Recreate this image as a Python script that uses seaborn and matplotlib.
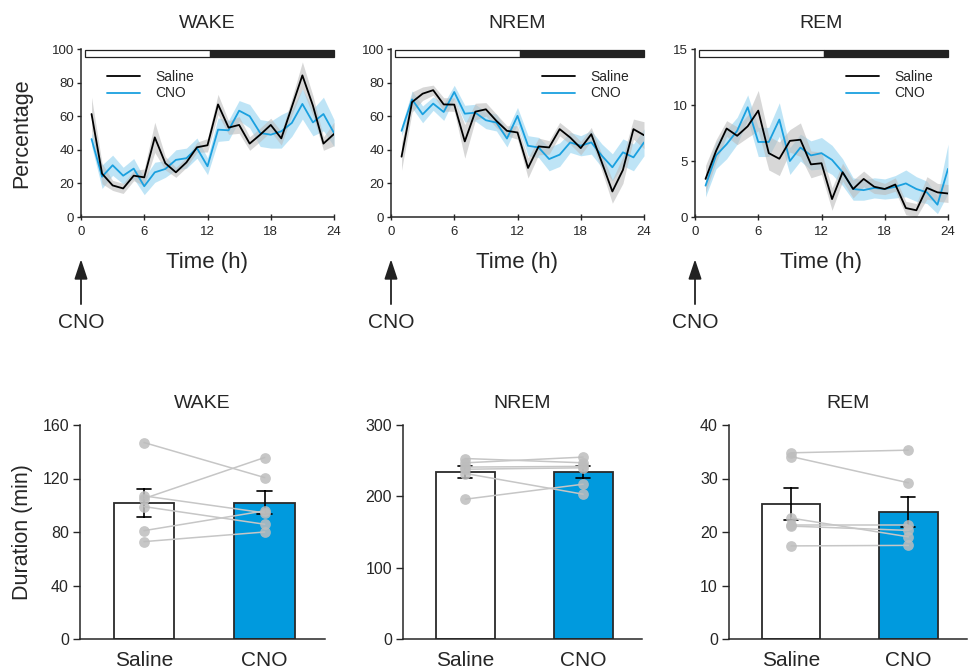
import numpy as np
import pandas as pd
import matplotlib
matplotlib.use("Agg")
import matplotlib.pyplot as plt
import matplotlib.transforms as mtransforms
from matplotlib.patches import Rectangle
import seaborn as sns

# ---- hourly time course (mean and SEM, %) ----
hours = list(range(1, 25))

wake_saline = [61.3, 25.8, 18.8, 17.0, 24.6, 23.6, 47.4, 32.0, 26.6, 32.5, 41.5, 42.7,
               67.0, 53.2, 54.8, 43.7, 49.0, 54.8, 46.8, 65.5, 84.3, 66.3, 43.7, 49.4]
wake_saline_sem = [10, 6, 3, 3, 3, 5, 9, 4, 3, 3, 3, 4, 6, 4, 5, 4, 4, 4, 4, 5, 8, 6, 4, 7]
wake_cno = [46.4, 24.0, 30.8, 24.6, 28.8, 18.3, 26.6, 28.6, 34.0, 35.0, 41.0, 30.2,
            52.0, 51.6, 63.3, 60.0, 50.0, 49.0, 51.0, 56.0, 67.3, 56.3, 61.3, 50.0]
wake_cno_sem = [4, 7, 6, 5, 6, 5, 6, 5, 6, 6, 6, 5, 7, 6, 6, 7, 8, 8, 10, 8, 9, 8, 10, 8]

nrem_saline = [35.9, 68.4, 73.4, 75.5, 67.0, 66.9, 45.0, 62.7, 64.1, 57.2, 51.3, 50.3,
               29.2, 42.0, 41.4, 52.3, 47.3, 41.0, 49.3, 32.5, 15.2, 28.0, 52.3, 48.7]
nrem_saline_sem = [8, 6, 4, 3, 4, 4, 10, 5, 4, 4, 3, 4, 6, 5, 4, 4, 4, 4, 4, 5, 7, 8, 6, 8]
nrem_cno = [51.3, 70.0, 61.1, 67.5, 62.5, 74.4, 61.5, 62.1, 57.6, 56.2, 46.7, 60.2,
            42.4, 41.4, 34.5, 37.1, 44.4, 42.4, 44.4, 36.5, 29.6, 38.5, 35.5, 44.4]
nrem_cno_sem = [3, 5, 5, 4, 5, 4, 5, 5, 5, 5, 5, 5, 6, 6, 7, 7, 6, 6, 7, 7, 8, 8, 8, 8]

rem_saline = [3.4, 5.9, 7.9, 7.25, 8.1, 9.5, 5.7, 5.2, 6.8, 6.9, 4.7, 4.8,
              1.6, 4.0, 2.5, 3.4, 2.7, 2.5, 2.9, 0.8, 0.6, 2.6, 2.2, 2.1]
rem_saline_sem = [1.2, 1.0, 0.7, 0.8, 1.0, 1.8, 1.5, 1.5, 1.0, 1.5, 1.2, 1.0,
                  1.0, 0.8, 0.8, 0.7, 0.6, 0.5, 0.6, 0.6, 0.6, 1.0, 0.8, 0.8]
rem_cno = [2.8, 5.5, 6.5, 7.7, 9.8, 6.7, 6.7, 8.7, 5.0, 6.2, 5.5, 5.7,
           5.1, 4.0, 2.5, 2.4, 2.6, 2.5, 2.7, 3.0, 2.5, 2.2, 1.1, 4.3]
rem_cno_sem = [1.0, 1.2, 1.3, 1.2, 1.1, 1.3, 1.3, 1.5, 1.2, 1.2, 1.3, 1.4,
               1.3, 1.2, 1.0, 0.9, 0.9, 0.9, 1.0, 1.2, 1.1, 1.0, 0.8, 2.2]

# ---- total durations per mouse (min), paired saline / CNO ----
conditions = ["Saline", "CNO"]
wake_dur_saline = [146.9, 105.0, 107.0, 99.0, 81.0, 72.8]
wake_dur_cno = [120.7, 135.7, 94.3, 85.8, 95.8, 80.0]
nrem_dur_saline = [253.0, 247.0, 241.0, 238.0, 232.0, 196.0]
nrem_dur_cno = [247.0, 255.0, 242.0, 240.0, 203.0, 217.0]
rem_dur_saline = [34.8, 34.1, 22.6, 21.4, 21.1, 17.4]
rem_dur_cno = [35.3, 29.2, 19.1, 21.4, 20.3, 17.5]

BLUE = "#1aa0df"
BAR_BLUE = "#009ade"
LIGHT_BLUE = "#a9dcf3"

sns.set_style("ticks")
plt.rcParams["font.family"] = ["Liberation Sans", "DejaVu Sans"]

fig = plt.figure(figsize=(9.68, 6.71), dpi=100)
W, H = 968.0, 671.0


def px_axes(left, top, right, bottom):
    return fig.add_axes([left / W, 1 - bottom / H, (right - left) / W, (bottom - top) / H])


def time_panel(ax, title, sal, sal_sem, cno, cno_sem, ymax, yticks, legend_x, ylabel=None):
    t = np.array(hours)
    sal, sal_sem = np.array(sal), np.array(sal_sem)
    cno, cno_sem = np.array(cno), np.array(cno_sem)
    ax.fill_between(t, cno - cno_sem, cno + cno_sem, color=LIGHT_BLUE, alpha=0.75, lw=0)
    ax.fill_between(t, sal - sal_sem, sal + sal_sem, color="#bdbdbd", alpha=0.6, lw=0)
    sns.lineplot(x=t, y=cno, ax=ax, color=BLUE, lw=1.3, label="CNO")
    sns.lineplot(x=t, y=sal, ax=ax, color="black", lw=1.3, label="Saline")
    ax.set_xlim(0, 24)
    ax.set_ylim(0, ymax)
    ax.set_xticks([0, 6, 12, 18, 24])
    ax.set_yticks(yticks)
    # light / dark bar
    tr = mtransforms.blended_transform_factory(ax.transData, ax.transAxes)
    ax.add_patch(Rectangle((0.4, 0.955), 11.8, 0.04, transform=tr, facecolor="white",
                           edgecolor="#222222", lw=0.9, clip_on=False))
    ax.add_patch(Rectangle((12.2, 0.955), 11.8, 0.04, transform=tr, facecolor="#222222",
                           edgecolor="#222222", lw=0.9, clip_on=False))
    handles, labels = ax.get_legend_handles_labels()
    order = [labels.index("Saline"), labels.index("CNO")]
    ax.legend([handles[i] for i in order], [labels[i] for i in order],
              loc="upper left", bbox_to_anchor=(legend_x, 0.91), frameon=False,
              fontsize=10, handlelength=2.4, handletextpad=1.1, labelspacing=0.2,
              borderaxespad=0)
    sns.despine(ax=ax)
    ax.tick_params(axis="y", direction="out", length=3, width=1, labelsize=9.5, pad=2)
    ax.tick_params(axis="x", direction="inout", length=5, width=1, labelsize=9.5, pad=4)
    ax.set_title(title, fontsize=14, pad=15)
    ax.set_xlabel("Time (h)", fontsize=16, labelpad=10)
    if ylabel:
        ax.set_ylabel(ylabel, fontsize=15.5, labelpad=14)
    # CNO injection arrow
    ax.annotate("", xy=(0, -0.235), xycoords=("data", "axes fraction"),
                xytext=(0, -0.535), textcoords=("data", "axes fraction"),
                arrowprops=dict(arrowstyle="-|>,head_length=1.2,head_width=0.4",
                                color="#222222", lw=1.3), annotation_clip=False)
    ax.text(0, -0.625, "CNO", transform=tr, ha="center", va="center", fontsize=15,
            clip_on=False)
    for s in ax.spines.values():
        s.set_linewidth(1.1)


def bar_panel(ax, title, sal, cno, ymax, yticks, ylabel=None):
    df = pd.DataFrame({"condition": ["Saline"] * len(sal) + ["CNO"] * len(cno),
                       "value": sal + cno})
    sns.barplot(data=df, x="condition", y="value", order=conditions, ax=ax,
                hue="condition", palette={"Saline": "white", "CNO": BAR_BLUE},
                saturation=1, edgecolor="#2a2a2a", linewidth=1.3, width=0.5,
                errorbar="se", capsize=0.12,
                err_kws={"color": "black", "linewidth": 1.2}, legend=False)
    for s, c in zip(sal, cno):
        ax.plot([0, 1], [s, c], color="#c6c6c6", lw=1.1, zorder=3)
    ax.scatter([0] * len(sal), sal, s=60, color="#bdbdbd", alpha=0.85, lw=0, zorder=4)
    ax.scatter([1] * len(cno), cno, s=60, color="#bdbdbd", alpha=0.85, lw=0, zorder=4)
    ax.set_xlim(-0.53, 1.5)
    ax.set_ylim(0, ymax)
    ax.set_yticks(yticks)
    sns.despine(ax=ax)
    ax.tick_params(axis="y", direction="out", length=5, width=1, labelsize=11.5, pad=3)
    ax.tick_params(axis="x", length=0, labelsize=15, pad=9)
    ax.set_xlabel("")
    ax.set_ylabel(ylabel if ylabel else "", fontsize=15.5, labelpad=7)
    ax.set_title(title, fontsize=14, pad=12)
    for s in ax.spines.values():
        s.set_linewidth(1.1)


ax1 = px_axes(81, 49, 334, 217)
ax2 = px_axes(391, 49, 644, 217)
ax3 = px_axes(695, 49, 948, 217)
time_panel(ax1, "WAKE", wake_saline, wake_saline_sem, wake_cno, wake_cno_sem,
           100, [0, 20, 40, 60, 80, 100], 0.08, ylabel="Percentage")
time_panel(ax2, "NREM", nrem_saline, nrem_saline_sem, nrem_cno, nrem_cno_sem,
           100, [0, 20, 40, 60, 80, 100], 0.575)
time_panel(ax3, "REM", rem_saline, rem_saline_sem, rem_cno, rem_cno_sem,
           15, [0, 5, 10, 15], 0.575)

bx1 = px_axes(80, 425, 325, 639)
bx2 = px_axes(403, 425, 642, 639)
bx3 = px_axes(729, 425, 967, 639)
bar_panel(bx1, "WAKE", wake_dur_saline, wake_dur_cno, 160, [0, 40, 80, 120, 160],
          ylabel="Duration (min)")
bar_panel(bx2, "NREM", nrem_dur_saline, nrem_dur_cno, 300, [0, 100, 200, 300])
bar_panel(bx3, "REM", rem_dur_saline, rem_dur_cno, 40, [0, 10, 20, 30, 40])

fig.savefig("out.png", dpi=100)
